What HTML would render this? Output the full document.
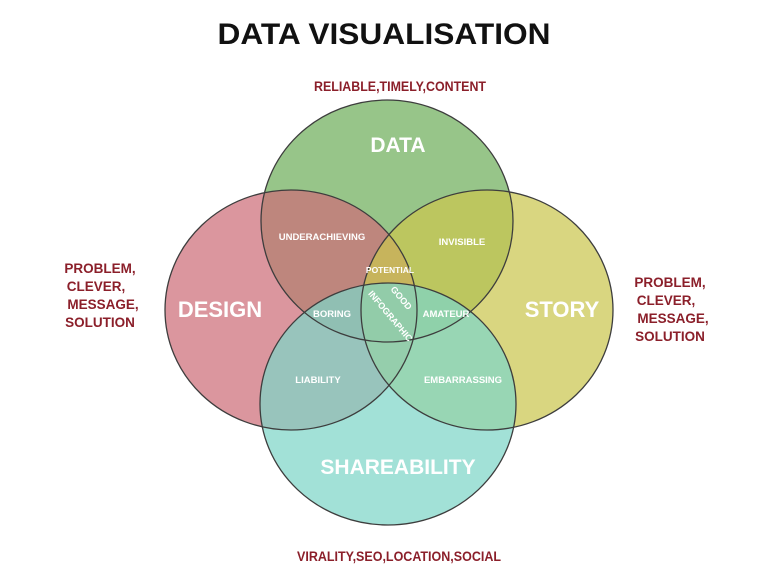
<!DOCTYPE html>
<html><head><meta charset="utf-8"><style>
html,body{margin:0;padding:0;background:#fff;}
svg{display:block;}
text{font-family:"Liberation Sans",sans-serif;}
</style></head><body>
<svg width="768" height="583" viewBox="0 0 768 583" xmlns="http://www.w3.org/2000/svg">
<rect width="768" height="583" fill="#fff"/>
<text x="384" y="44" text-anchor="middle" font-size="30" font-weight="bold" fill="#111" textLength="333" lengthAdjust="spacingAndGlyphs">DATA VISUALISATION</text>
<g fill="#8b1f2a" font-size="13.5" text-anchor="middle" font-weight="bold">
<text x="400" y="91" textLength="172" lengthAdjust="spacingAndGlyphs">RELIABLE,TIMELY,CONTENT</text>
<text x="100" y="273">PROBLEM,</text>
<text x="96" y="291">CLEVER,</text>
<text x="103" y="309">MESSAGE,</text>
<text x="100" y="327">SOLUTION</text>
<text x="670" y="287">PROBLEM,</text>
<text x="666" y="305">CLEVER,</text>
<text x="673" y="323">MESSAGE,</text>
<text x="670" y="341">SOLUTION</text>
<text x="399" y="561" textLength="204" lengthAdjust="spacingAndGlyphs">VIRALITY,SEO,LOCATION,SOCIAL</text>
</g>
<g fill-opacity="0.72">
<ellipse cx="387" cy="221" rx="126" ry="121" fill="rgb(111,174,92)"/>
<ellipse cx="291" cy="310" rx="126" ry="120" fill="rgb(205,110,120)"/>
<ellipse cx="487" cy="310" rx="126" ry="120" fill="rgb(202,198,79)"/>
<ellipse cx="388" cy="404" rx="128" ry="121" fill="rgb(126,214,200)"/>
</g>
<g stroke="#3d3d3d" stroke-width="1.3" fill="none">
<ellipse cx="387" cy="221" rx="126" ry="121"/>
<ellipse cx="291" cy="310" rx="126" ry="120"/>
<ellipse cx="487" cy="310" rx="126" ry="120"/>
<ellipse cx="388" cy="404" rx="128" ry="121"/>
</g>
<g fill="#fff" text-anchor="middle" font-weight="bold">
<text x="398" y="152" font-size="21">DATA</text>
<text x="220" y="317" font-size="22">DESIGN</text>
<text x="562" y="317" font-size="22">STORY</text>
<text x="398" y="474" font-size="21">SHAREABILITY</text>
<g font-size="9.5">
<text x="322" y="240">UNDERACHIEVING</text>
<text x="462" y="245">INVISIBLE</text>
<text x="390" y="273" font-size="8.5">POTENTIAL</text>
<text x="332" y="317">BORING</text>
<text x="446" y="317">AMATEUR</text>
<text x="318" y="383">LIABILITY</text>
<text x="463" y="383">EMBARRASSING</text>
<text transform="translate(399,300) rotate(50)" font-size="9">GOOD</text>
<text transform="translate(388,318) rotate(50)" font-size="9">INFOGRAPHIC</text>
</g>
</g>
</svg>
</body></html>
